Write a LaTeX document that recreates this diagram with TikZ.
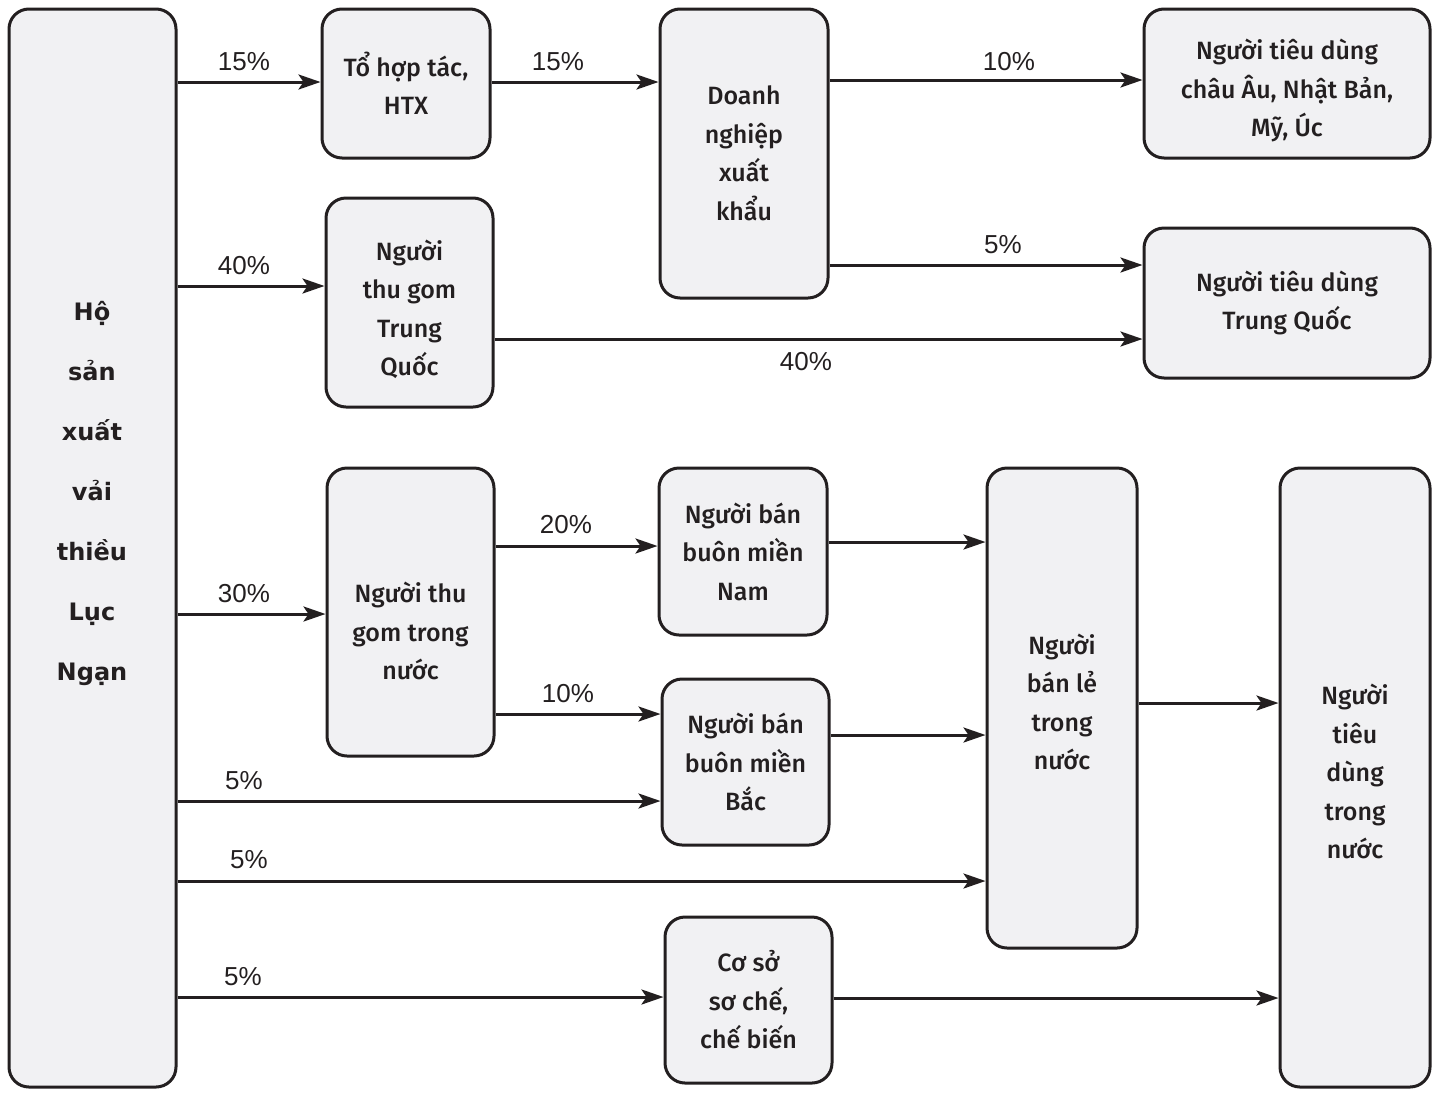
\documentclass[tikz,border=0pt]{standalone}
\usepackage{fontspec}
\setmainfont{Liberation Sans}
\newfontfamily\boxfont{Fira Sans Medium}
\newfontfamily\leftfont{DejaVu Sans}
\usetikzlibrary{arrows.meta}
\definecolor{ink}{HTML}{231F20}
\definecolor{boxfill}{HTML}{F1F1F3}
\tikzset{
  box/.style={draw=ink, fill=boxfill, line width=1.5pt, rounded corners=10pt,
    inner sep=0pt, align=center, text=ink,
    font=\boxfont\fontsize{12.5}{19.25}\selectfont},
  txt/.style={inner sep=0pt, align=center, text=ink, font=\boxfont\fontsize{12.5}{19.25}\selectfont},
  pct/.style={inner sep=0pt, text=ink, font=\fontsize{13}{15}\selectfont},
  arr/.style={draw=ink, line width=1.5pt, -{Stealth[length=11pt,width=7.5pt,inset=2.5pt]}}
}
\begin{document}
\begin{tikzpicture}[x=0.5pt,y=-0.5pt]
\useasboundingbox (0,0) rectangle (1438,1098);
% boxes
\node[box, minimum width=83.5pt, minimum height=539pt] (L) at (92.5,548) {};
\node[txt, font=\leftfont\bfseries\fontsize{12}{30}\selectfont] (Ltxt) at (92,493)
  {Hộ\\sản\\xuất\\vải\\thiều\\Lục\\Ngạn};
\node[box, minimum width=84pt, minimum height=74.5pt] (THT) at (406,83.5) {Tổ hợp tác,\\HTX};
\node[box, minimum width=84pt, minimum height=144.5pt] (DN) at (744,153.5) {Doanh\\nghiệp\\xuất\\khẩu};
\node[box, minimum width=143pt, minimum height=74.5pt] (CA) at (1287,83.5) {};
\node[txt] (CAtxt) at (1287,90.5) {Người tiêu dùng\\châu Âu, Nhật Bản,\\Mỹ, Úc};
\node[box, minimum width=143pt, minimum height=75pt] (TQC) at (1287,303) {Người tiêu dùng\\Trung Quốc};
\node[box, minimum width=83.5pt, minimum height=104.5pt] (TGQ) at (409.5,302.5) {};
\node[txt] (TGQtxt) at (409.5,309.5) {Người\\thu gom\\Trung\\Quốc};
\node[box, minimum width=83.5pt, minimum height=144pt] (TGN) at (410.5,612) {};
\node[txt] (TGNtxt) at (410.5,631) {Người thu\\gom trong\\nước};
\node[box, minimum width=84pt, minimum height=83.5pt] (BBN) at (743,551.5) {Người bán\\buôn miền\\Nam};
\node[box, minimum width=83.5pt, minimum height=83pt] (BBB) at (745.5,762) {Người bán\\buôn miền\\Bắc};
\node[box, minimum width=75pt, minimum height=240pt] (BL) at (1062,708) {};
\node[txt] (BLtxt) at (1062,702) {Người\\bán lẻ\\trong\\nước};
\node[box, minimum width=75pt, minimum height=309.5pt] (TDN) at (1355,777.5) {};
\node[txt] (TDNtxt) at (1355,771.5) {Người\\tiêu\\dùng\\trong\\nước};
\node[box, minimum width=83.5pt, minimum height=83pt] (CS) at (748.5,1000) {Cơ sở\\sơ chế,\\chế biến};
% connectors
\draw[arr] (L.east |- 0,82) -- (THT.west |- 0,82);
\draw[arr] (THT.east |- 0,82) -- (DN.west |- 0,82);
\draw[arr] (DN.east |- 0,80) -- (CA.west |- 0,80);
\draw[arr] (DN.east |- 0,265) -- (TQC.west |- 0,265);
\draw[arr] (L.east |- 0,286) -- (TGQ.west |- 0,286);
\draw[arr] (TGQ.east |- 0,339) -- (TQC.west |- 0,339);
\draw[arr] (L.east |- 0,614) -- (TGN.west |- 0,614);
\draw[arr] (TGN.east |- 0,546) -- (BBN.west |- 0,546);
\draw[arr] (TGN.east |- 0,714) -- (BBB.west |- 0,714);
\draw[arr] (L.east |- 0,801) -- (BBB.west |- 0,801);
\draw[arr] (L.east |- 0,881) -- (BL.west |- 0,881);
\draw[arr] (L.east |- 0,997) -- (CS.west |- 0,997);
\draw[arr] (BBN.east |- 0,542) -- (BL.west |- 0,542);
\draw[arr] (BBB.east |- 0,735) -- (BL.west |- 0,735);
\draw[arr] (BL.east |- 0,703) -- (TDN.west |- 0,703);
\draw[arr] (CS.east |- 0,998) -- (TDN.west |- 0,998);
% labels
\node[pct] (p1) at (244,62) {15\%};
\node[pct] (p2) at (558,62) {15\%};
\node[pct] (p3) at (1009,62) {10\%};
\node[pct] (p4) at (1003,245) {5\%};
\node[pct] (p5) at (244,266) {40\%};
\node[pct] (p6) at (806,362) {40\%};
\node[pct] (p7) at (244,594) {30\%};
\node[pct] (p8) at (566,525) {20\%};
\node[pct] (p9) at (568,694) {10\%};
\node[pct] (p10) at (244,781) {5\%};
\node[pct] (p11) at (249,860) {5\%};
\node[pct] (p12) at (243,977) {5\%};
\end{tikzpicture}
\end{document}
